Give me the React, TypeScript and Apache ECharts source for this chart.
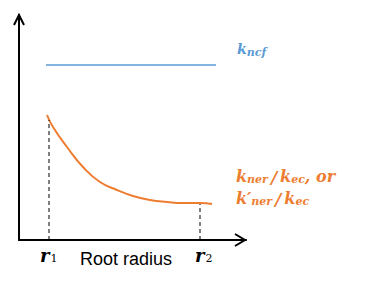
import React, { useEffect, useRef } from "react";
import * as echarts from "echarts";

const curveX = [28, 34, 48, 64, 81, 98, 114, 131, 148, 164, 181, 193];
const curveY = [125, 113, 93, 73, 58, 50, 44, 40, 38, 37, 37, 36];
const flatX = [27, 197];
const flatY = [175, 175];
const dash1X = [30, 30];
const dash1Y = [0, 120];
const dash2X = [181, 181];
const dash2Y = [0, 36];

const BLUE = "#5B9BD5";
const ORANGE = "#ED7D31";
const SERIF = "DejaVu Serif, serif";

const kStyle = (fill: string, size: number, h: number) => ({
  fontFamily: SERIF, fontStyle: "italic", fontWeight: "bold", fontSize: size, fill, height: h, verticalAlign: "bottom",
});
const sStyle = (fill: string, size: number, h: number) => ({
  fontFamily: SERIF, fontStyle: "italic", fontWeight: "bold", fontSize: size, fill, height: h, verticalAlign: "bottom", padding: [0, 0, -3, 0],
});

export default function App() {
  const ref = useRef<HTMLDivElement>(null);
  useEffect(() => {
    const chart = echarts.init(ref.current!, null, { renderer: "svg" });
    const zip = (xs: number[], ys: number[]) => xs.map((x, i) => [x, ys[i]]);
    chart.setOption({
      animation: false,
      grid: { left: 19, top: 15, width: 227, height: 225 },
      xAxis: {
        type: "value", min: 0, max: 227,
        axisLine: { show: true, onZero: false, lineStyle: { color: "#000", width: 2 } },
        axisTick: { show: false }, axisLabel: { show: false }, splitLine: { show: false },
      },
      yAxis: {
        type: "value", min: 0, max: 225,
        axisLine: { show: true, onZero: false, lineStyle: { color: "#000", width: 2 } },
        axisTick: { show: false }, axisLabel: { show: false }, splitLine: { show: false },
      },
      series: [
        { type: "line", data: zip(flatX, flatY), symbol: "none", lineStyle: { color: BLUE, width: 1.5 } },
        { type: "line", data: zip(curveX, curveY), smooth: 0.5, symbol: "none", lineStyle: { color: ORANGE, width: 2 } },
        { type: "line", data: zip(dash1X, dash1Y), symbol: "none", lineStyle: { color: "#000", width: 1, type: [4, 3] } },
        { type: "line", data: zip(dash2X, dash2Y), symbol: "none", lineStyle: { color: "#000", width: 1, type: [4, 3] } },
      ],
      graphic: [
        { type: "polyline", shape: { points: [[235, 234], [245, 240], [235, 246]] }, style: { stroke: "#000", lineWidth: 2, fill: null } },
        { type: "polyline", shape: { points: [[14, 25], [19, 15], [24, 25]] }, style: { stroke: "#000", lineWidth: 2, fill: null } },
        {
          type: "text", left: 237, top: 42,
          style: {
            text: "{k|k}{s|ncf}",
            rich: { k: kStyle(BLUE, 14, 18), s: sStyle(BLUE, 11, 18) },
          },
        },
        {
          type: "text", left: 236, top: 168,
          style: {
            text: "{k|k}{s|ner}{sl|/}{k|k}{s|ec}{k|, or}\n{k|k′}{s|ner}{sl|/}{k|k}{s|ec}",
            rich: {
              k: kStyle(ORANGE, 16, 22),
              s: sStyle(ORANGE, 11, 22),
              sl: { ...kStyle(ORANGE, 17, 22), padding: [0, 3, 0, 3] },
            },
          },
        },
        {
          type: "text", left: 40, top: 246,
          style: {
            text: "{r|r}{s|1}",
            rich: {
              r: kStyle("#000", 18, 20),
              s: { fontFamily: SERIF, fontSize: 11, fill: "#000", height: 20, verticalAlign: "bottom", padding: [0, 0, -3, 1] },
            },
          },
        },
        {
          type: "text", left: 195, top: 246,
          style: {
            text: "{r|r}{s|2}",
            rich: {
              r: kStyle("#000", 18, 20),
              s: { fontFamily: SERIF, fontSize: 11, fill: "#000", height: 20, verticalAlign: "bottom", padding: [0, 0, -3, 1] },
            },
          },
        },
        {
          type: "text", left: 80, top: 250,
          style: { text: "Root radius", fontFamily: "Liberation Sans, Arial, sans-serif", fontSize: 18, fill: "#000" },
        },
      ],
    });
    return () => chart.dispose();
  }, []);
  return <div ref={ref} style={{ width: 374, height: 282, position: "absolute", left: 0, top: 0, background: "#fff" }} />;
}
